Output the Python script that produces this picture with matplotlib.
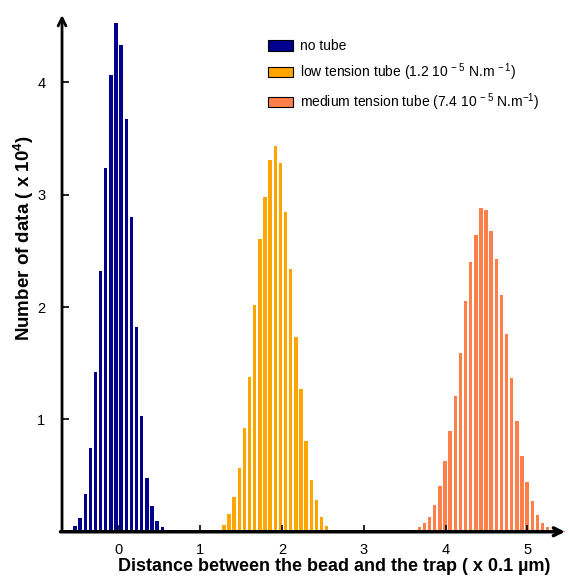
import numpy as np
import matplotlib
matplotlib.use("Agg")
import matplotlib.pyplot as plt
from matplotlib.patches import Patch

plt.rcParams['font.family'] = ['Liberation Sans', 'DejaVu Sans']
plt.rcParams['mathtext.fontset'] = 'custom'
plt.rcParams['mathtext.rm'] = 'Liberation Sans'
plt.rcParams['mathtext.bf'] = 'Liberation Sans:bold'

# bin centres (x 0.1 um) and counts (x 10^4)
BIN = 0.0628
no_tube_start = -0.53
no_tube_counts = [0.05, 0.12, 0.34, 0.75, 1.42, 2.32, 3.24, 4.07, 4.53, 4.33,
                  3.67, 2.80, 1.82, 1.03, 0.48, 0.23, 0.10, 0.04, 0.02]

low_start = 1.165
low_counts = [0.005, 0.02, 0.06, 0.16, 0.31, 0.57, 0.92, 1.38, 2.02, 2.61,
              2.98, 3.31, 3.43, 3.28, 2.85, 2.34, 1.73, 1.27, 0.81, 0.46,
              0.28, 0.13, 0.05, 0.02, 0.01]

medium_start = 3.553
medium_counts = [0.006, 0.015, 0.04, 0.08, 0.13, 0.24, 0.41, 0.63, 0.90, 1.21,
                 1.59, 2.05, 2.40, 2.64, 2.88, 2.86, 2.68, 2.43, 2.11, 1.76,
                 1.37, 0.99, 0.67, 0.44, 0.27, 0.15, 0.08, 0.04, 0.02, 0.01,
                 0.003]

labels = ["no tube",
          "low tension tube (1.2 10$^{\\,-5}$ N.m$^{\\,-1}$)",
          "medium tension tube (7.4 10$^{\\,-5}$ N.m$^{-1}$)"]
colors = ["#00008F", "#FFA500", "#FF7F4A"]


def centres(start, counts):
    return start + BIN * np.arange(len(counts))


fig = plt.figure(figsize=(5.69, 5.78), dpi=100)
ax = fig.add_axes([0.109, 0.080, 0.884, 0.894])

series = [(no_tube_start, no_tube_counts), (low_start, low_counts),
          (medium_start, medium_counts)]
for (start, counts), color in zip(series, colors):
    ax.bar(centres(start, counts), counts, width=0.042, color=color,
           edgecolor="none")

ax.set_xlim(-0.688, 5.46)
ax.set_ylim(0, 4.6)
ax.set_xticks([0, 1, 2, 3, 4, 5])
ax.set_yticks([1, 2, 3, 4])
ax.tick_params(direction="in", length=5, width=1.2, labelsize=10.5)
ax.tick_params(axis="y", pad=12)
ax.tick_params(axis="x", pad=8)

for side in ["top", "right", "left", "bottom"]:
    ax.spines[side].set_visible(False)

# axes drawn as arrows
ax.annotate("", xy=(0, 1.0), xytext=(0, 0), xycoords="axes fraction",
            arrowprops=dict(arrowstyle="->", lw=2, color="black",
                            shrinkA=0, shrinkB=0, mutation_scale=14))
ax.annotate("", xy=(1.0, 0), xytext=(-0.003, 0), xycoords="axes fraction",
            arrowprops=dict(arrowstyle="->", lw=2.5, color="black",
                            shrinkA=0, shrinkB=0, mutation_scale=14))

ax.set_xlabel("Distance between the bead and the trap ( x 0.1 µm)",
              fontsize=13, fontweight="bold")
ax.xaxis.set_label_coords(0.541, -0.05)
ax.set_ylabel("Number of data ( x 10$^{\\mathbf{4}}$)", fontsize=13.5,
              fontweight="bold")
ax.yaxis.set_label_coords(-0.052, 0.569)

handles = [Patch(facecolor=c, edgecolor="black", linewidth=0.8) for c in colors]
ax.legend(handles, labels, loc="upper left", bbox_to_anchor=(0.41, 0.953),
          frameon=False, fontsize=10, handlelength=1.8, handleheight=0.75,
          labelspacing=0.58, handletextpad=0.5, borderpad=0,
          borderaxespad=0)

plt.savefig("out.png", dpi=100)
